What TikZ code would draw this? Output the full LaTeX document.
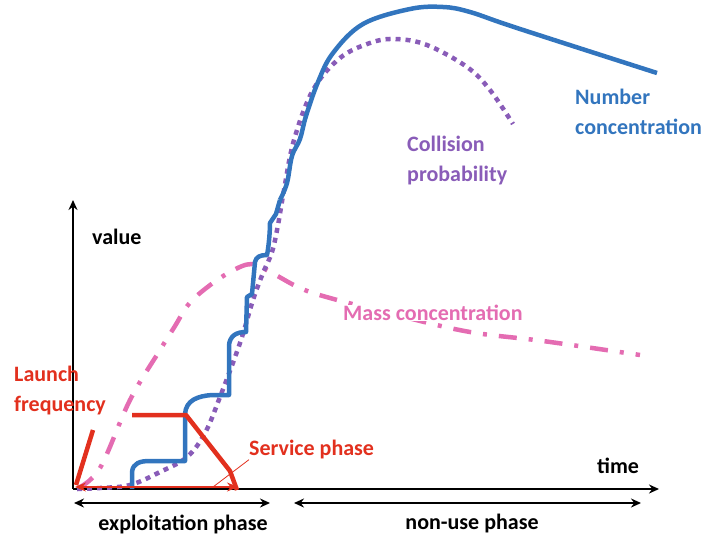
\documentclass[tikz,border=0pt]{standalone}
\usepackage{fontspec}
\setmainfont{Carlito}
\usetikzlibrary{arrows.meta}
\definecolor{numblue}{RGB}{50,117,190}
\definecolor{colpurple}{RGB}{137,92,184}
\definecolor{masspink}{RGB}{228,108,178}
\definecolor{launchred}{RGB}{226,48,30}
\tikzset{
	lbl/.style={inner sep=0pt, font=\fontsize{22}{30}\selectfont\bfseries},
	axis/.style={line width=2.5pt, -{Stealth[length=10pt,width=9pt]}},
	phase/.style={line width=2.5pt, {Stealth[length=10pt,width=9pt]}-{Stealth[length=10pt,width=9pt]}},
}

\begin{document}
\begin{tikzpicture}[x=1pt, y=-1pt, line join=round]
	\useasboundingbox (0,0) rectangle (721,536);
	% axes
	\coordinate (o) at (73,489);
	\coordinate (ytip) at (73,200);
	\coordinate (xtip) at (659,489);
	\draw [ axis ] (o) -- (ytip);
	\draw [ axis ] (o) -- (xtip);
	\node [ lbl, anchor=west ] (1) at (92,237) { value };
	\node [ lbl, anchor=west ] (2) at (597,466) { time };
	% phases
	\coordinate (e1) at (74,503);
	\coordinate (e2) at (270,503);
	\coordinate (n1) at (294,503);
	\coordinate (n2) at (641,503);
	\draw [ phase ] (e1) -- (e2);
	\draw [ phase ] (n1) -- (n2);
	\node [ lbl ] (3) at (183,524) { exploitation phase };
	\node [ lbl ] (4) at (472,524) { non-use phase };
	% mass concentration
	\draw [ masspink, line width=4.5pt, dash pattern=on 18pt off 12pt on 4pt off 12pt ]
		plot [ smooth, tension=0.6 ] coordinates { (78,488) (100,468) (130,400) (160,350) (175,326)
			(188,305) (205,289) (230,272) (252,264) (272,273) (300,288) (330,298)
			(400,316) (470,332) (543,341) (640,355) };
	% collision probability
	\draw [ colpurple, line width=4.5pt, dash pattern=on 5pt off 5pt ]
		plot [ smooth, tension=0.6 ] coordinates { (77,489) (100,488) (130,485) (160,472) (187,457)
			(205,433) (220,397) (240,343) (253,300) (263,273) (272,252) (278,225) (284,190)
			(294,140) (313,90) (340,58) (370,43) (395,39) (427,45) (467,67) (490,90) (513,124) };
	% number concentration
	\draw [ numblue, line width=4.5pt ]
		(132,489) -- (132,472) .. controls (133,463) and (140,461) .. (150,461) -- (185,461)
		-- (185,414) .. controls (186,400) and (198,396) .. (212,395) -- (229,395)
		-- (229,345) .. controls (230,336) and (236,332) .. (246,332) -- (247,297)
		-- (252,294) -- (255,262) .. controls (256,257) and (260,255) .. (267,255)
		.. controls (269,245) and (270,230) .. (270,223) -- (276,214) -- (280,200);
	\draw [ numblue, line width=4.5pt ]
		plot [ smooth, tension=0.6 ] coordinates { (280,200) (287,183) (292,156) (300,139) (306,116)
			(318,82) (333,53) (363,24) (410,9) (443,7) (470,12) (517,28) (657,73) };
	% launch frequency
	\draw [ launchred, line width=4.5pt ] (93,430) -- (76,485);
	\draw [ launchred, line width=4.5pt ] (132,415) -- (186,415) -- (230,471) -- (237,490);
	\coordinate (s1) at (75,487);
	\coordinate (s2) at (238,487);
	\coordinate (s3) at (213,487);
	\draw [ launchred, line width=1.2pt, {Stealth[length=11pt,width=9pt]}-{Stealth[length=11pt,width=9pt]} ] (s1) -- (s2);
	\node [ lbl, launchred, anchor=west, align=left ] (5) at (14,391) { Launch\\frequency };
	\node [ lbl, launchred, anchor=west ] (6) at (249,450) { Service phase };
	\draw [ launchred, line width=0.8pt ] (6.south west) -- (s3);
	% curve labels
	\node [ lbl, masspink, anchor=west, fill=white ] (7) at (343,313) { Mass concentration };
	\node [ lbl, colpurple, anchor=west, align=left ] (8) at (407,161) { Collision\\probability };
	\node [ lbl, numblue, anchor=west, align=left ] (9) at (575,112) { Number\\concentration };
\end{tikzpicture}
\end{document}
